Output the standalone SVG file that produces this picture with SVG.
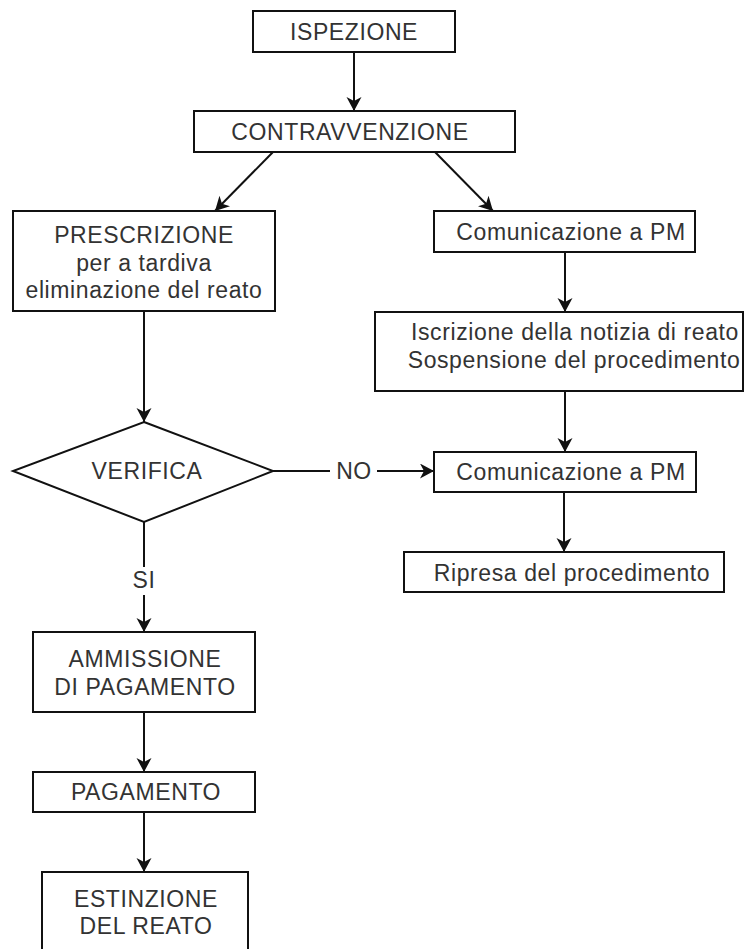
<svg xmlns="http://www.w3.org/2000/svg" width="745" height="949" viewBox="0 0 745 949">
  <style>
    .box { fill: #ffffff; stroke: #111111; stroke-width: 2; }
    .edge { fill: none; stroke: #111111; stroke-width: 2; }
    .lbl { font-family: "Liberation Sans", Arial, sans-serif; font-size: 23px; letter-spacing: 0.6px; fill: #333333; text-anchor: middle; }
  </style>
  <defs>
    <!-- classic notched arrowhead -->
    <marker id="arrow" markerUnits="userSpaceOnUse" markerWidth="16" markerHeight="16" refX="14" refY="7.5" orient="auto">
      <path d="M0,0 L14,7.5 L0,15 L4,7.5 z" fill="#111111"/>
    </marker>
  </defs>
  <rect width="745" height="949" fill="#ffffff"/>

  <!-- connectors -->
  <g id="connectors">
    <line class="edge" x1="354" y1="52" x2="354" y2="111" marker-end="url(#arrow)"/>
    <line class="edge" x1="273" y1="152" x2="215" y2="211" marker-end="url(#arrow)"/>
    <line class="edge" x1="435" y1="152" x2="493" y2="211" marker-end="url(#arrow)"/>
    <line class="edge" x1="565" y1="252" x2="565" y2="312" marker-end="url(#arrow)"/>
    <line class="edge" x1="565" y1="391" x2="565" y2="452" marker-end="url(#arrow)"/>
    <line class="edge" x1="564" y1="492" x2="564" y2="552" marker-end="url(#arrow)"/>
    <line class="edge" x1="144" y1="311" x2="144" y2="422" marker-end="url(#arrow)"/>
    <!-- NO branch -->
    <line class="edge" x1="273" y1="471" x2="330" y2="471"/>
    <line class="edge" x1="377" y1="471" x2="434" y2="471" marker-end="url(#arrow)"/>
    <text class="lbl" x="354" y="479">NO</text>
    <!-- SI branch -->
    <line class="edge" x1="144" y1="522" x2="144" y2="567"/>
    <line class="edge" x1="144" y1="595" x2="144" y2="632" marker-end="url(#arrow)"/>
    <text class="lbl" x="144" y="588">SI</text>
    <line class="edge" x1="144" y1="712" x2="144" y2="772" marker-end="url(#arrow)"/>
    <line class="edge" x1="144" y1="812" x2="144" y2="872" marker-end="url(#arrow)"/>
  </g>

  <g id="ispezione">
    <rect class="box" x="253" y="11" width="202" height="41"/>
    <text class="lbl" x="354" y="40">ISPEZIONE</text>
  </g>

  <g id="contravvenzione">
    <rect class="box" x="194" y="111" width="321" height="41"/>
    <text class="lbl" x="350" y="140">CONTRAVVENZIONE</text>
  </g>

  <g id="prescrizione">
    <rect class="box" x="13" y="211" width="262" height="100"/>
    <text class="lbl" x="144" y="243">PRESCRIZIONE</text>
    <text class="lbl" x="144" y="271">per a tardiva</text>
    <text class="lbl" x="144" y="298">eliminazione del reato</text>
  </g>

  <g id="comunicazione-pm-1">
    <rect class="box" x="434" y="211" width="261" height="41"/>
    <text class="lbl" x="571" y="240">Comunicazione a PM</text>
  </g>

  <g id="iscrizione">
    <rect class="box" x="375" y="312" width="368" height="79"/>
    <text class="lbl" x="575" y="340">Iscrizione della notizia di reato</text>
    <text class="lbl" x="574" y="368">Sospensione del procedimento</text>
  </g>

  <g id="verifica">
    <polygon class="box" points="144,422 273,471 144,522 13,471"/>
    <text class="lbl" x="147" y="479">VERIFICA</text>
  </g>

  <g id="comunicazione-pm-2">
    <rect class="box" x="434" y="452" width="262" height="40"/>
    <text class="lbl" x="571" y="480">Comunicazione a PM</text>
  </g>

  <g id="ripresa">
    <rect class="box" x="404" y="552" width="320" height="40"/>
    <text class="lbl" x="572" y="581">Ripresa del procedimento</text>
  </g>

  <g id="ammissione">
    <rect class="box" x="33" y="632" width="222" height="80"/>
    <text class="lbl" x="145" y="667">AMMISSIONE</text>
    <text class="lbl" x="145" y="695">DI PAGAMENTO</text>
  </g>

  <g id="pagamento">
    <rect class="box" x="33" y="772" width="222" height="40"/>
    <text class="lbl" x="146" y="800">PAGAMENTO</text>
  </g>

  <g id="estinzione">
    <rect class="box" x="42" y="872" width="206" height="90"/>
    <text class="lbl" x="146" y="907">ESTINZIONE</text>
    <text class="lbl" x="146" y="934">DEL REATO</text>
  </g>
</svg>
